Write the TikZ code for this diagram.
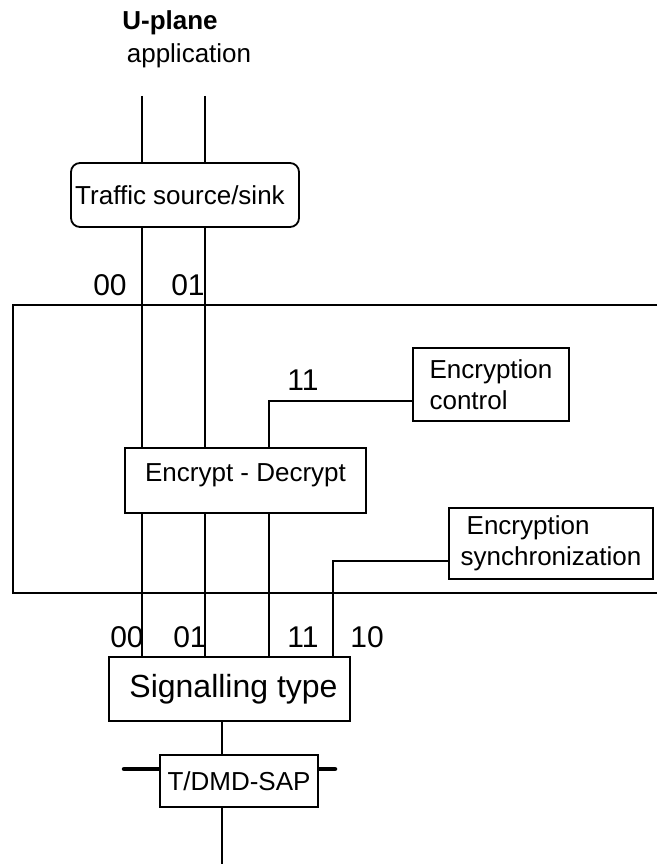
\documentclass[tikz,border=0pt]{standalone}
\usepackage{fontspec}
\setmainfont{Liberation Sans}
\usepackage{tikz}
\tikzstyle{blk} = [draw, line width=1.8pt, inner sep=0pt, fill=white, font=\fontsize{26}{31}\selectfont]
\tikzstyle{lbl} = [inner sep=0pt, font=\fontsize{30}{30}\selectfont]
\tikzstyle{wire} = [line width=1.8pt]

\begin{document}
\begin{tikzpicture}[x=1pt,y=-1pt]
  \useasboundingbox (0,0) rectangle (657,864);
  \draw [wire] (657,305) -| (13,593) -- (657,593);
  \coordinate (barL) at (124,769);
  \coordinate (barR) at (335,769);
  \draw [line width=4.5pt, line cap=round] (barL) -- (barR);
  \node (up) at (170,23) [font=\fontsize{26}{31}\selectfont\bfseries] {U-plane};
  \node (app) at (189,56) [font=\fontsize{26}{31}\selectfont] {application};
  \node (tss) at (185,195) [blk, rounded corners=9pt, minimum width=228pt, minimum height=64pt] {Traffic source/sink\kern10pt};
  \node (ed) at (245.5,480.5) [blk, minimum width=241pt, minimum height=65pt, text depth=15.5pt] {Encrypt - Decrypt};
  \node (ctrl) at (491,384.5) [blk, minimum width=156pt, minimum height=73pt, align=left] {Encryption\\control};
  \node (sync) at (551,543.5) [blk, minimum width=204pt, minimum height=71pt, align=left] {\hspace{6pt}Encryption\\synchronization};
  \node (sig) at (229.5,689) [blk, minimum width=241pt, minimum height=64pt, font=\fontsize{32}{36}\selectfont] {\hspace{8pt}Signalling type};
  \node (sap) at (239,781) [blk, minimum width=158pt, minimum height=52pt] {T/DMD-SAP};
  \node (l00a) at (110,285) [lbl] {00};
  \node (l01a) at (188,285) [lbl] {01};
  \node (l11a) at (303,380) [lbl] {11};
  \node (l00b) at (127,637) [lbl] {00};
  \node (l01b) at (190,637) [lbl] {01};
  \node (l11b) at (303,637) [lbl] {11};
  \node (l10b) at (367,637) [lbl] {10};
  \coordinate (c0) at (142,96);
  \coordinate (c1) at (205,96);
  \coordinate (c3) at (269,401);
  \coordinate (c2) at (333,561);
  \coordinate (cs) at (222,864);
  \draw [wire] (c0) -- (tss.north -| c0);
  \draw [wire] (c1) -- (tss.north -| c1);
  \draw [wire] (tss.south -| c0) -- (ed.north -| c0);
  \draw [wire] (tss.south -| c1) -- (ed.north -| c1);
  \draw [wire] (ctrl.west |- c3) -| (ed.north -| c3);
  \draw [wire] (ed.south -| c0) -- (sig.north -| c0);
  \draw [wire] (ed.south -| c1) -- (sig.north -| c1);
  \draw [wire] (ed.south -| c3) -- (sig.north -| c3);
  \draw [wire] (sync.west |- c2) -| (sig.north -| c2);
  \draw [wire] (sig.south -| cs) -- (sap.north -| cs);
  \draw [wire] (sap.south -| cs) -- (cs);
\end{tikzpicture}
\end{document}
